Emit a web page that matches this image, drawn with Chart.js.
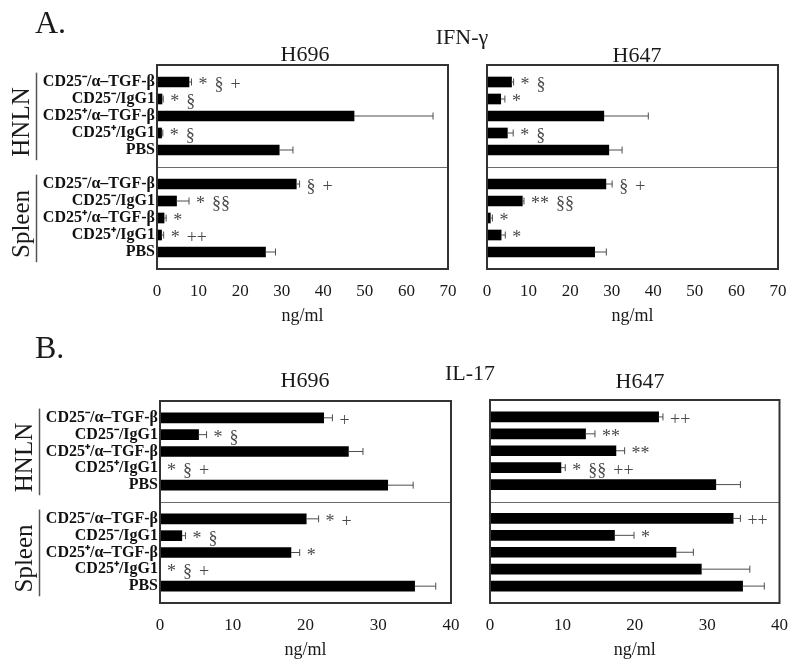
<!DOCTYPE html>
<html>
<head>
<meta charset="utf-8">
<title>IFN-γ / IL-17</title>
<script src="https://cdn.jsdelivr.net/npm/chart.js@4.4.1/dist/chart.umd.min.js"></script>
<style>
    html, body { margin: 0; padding: 0; background: #fff; }
    #page { position: relative; width: 800px; height: 666px; overflow: hidden; font-family: 'Liberation Serif', serif; color: #1a1a1a; }
    #page canvas { position: absolute; left: 0; top: 0; }
    .lbl { position: absolute; white-space: nowrap; line-height: 1; }
    .mid { transform: translateX(-50%); }
</style>
</head>
<body>
<div id="page">
    <canvas id="aLeft" width="800" height="666"></canvas>
    <canvas id="aRight" width="800" height="666"></canvas>
    <canvas id="bLeft" width="800" height="666"></canvas>
    <canvas id="bRight" width="800" height="666"></canvas>

    <div class="lbl" style="left:35px; top:6px; font-size:32px;">A.</div>
    <div class="lbl mid" style="left:462px; top:26px; font-size:22px;">IFN-γ</div>
    <div class="lbl mid" style="left:305px; top:43px; font-size:22px;">H696</div>
    <div class="lbl mid" style="left:637px; top:44px; font-size:22px;">H647</div>

    <div class="lbl" style="left:35px; top:331px; font-size:32px;">B.</div>
    <div class="lbl mid" style="left:470px; top:362px; font-size:22px;">IL-17</div>
    <div class="lbl mid" style="left:305px; top:369px; font-size:22px;">H696</div>
    <div class="lbl mid" style="left:640px; top:370px; font-size:22px;">H647</div>
</div>
<script>
(function() {
    'use strict';

    var treatments = ['CD25⁻/α–TGF-β', 'CD25⁻/IgG1', 'CD25⁺/α–TGF-β', 'CD25⁺/IgG1', 'PBS'];
    var groups = ['HNLN', 'Spleen'];
    var unit = 'ng/ml';

    // A. IFN-γ, H696
    var ifnH696Hnln = [7.7, 1.2, 47.4, 1.1, 29.4];
    var ifnH696HnlnErr = [0.6, 0.3, 19.0, 0.3, 3.3];
    var ifnH696Spleen = [33.5, 4.7, 1.7, 1.1, 26.1];
    var ifnH696SpleenErr = [0.8, 3.0, 0.5, 0.5, 2.4];
    var ifnH696HnlnNotes = ['* § +', '* §', '', '* §', ''];
    var ifnH696SpleenNotes = ['§ +', '* §§', '*', '* ++', ''];

    // A. IFN-γ, H647
    var ifnH647Hnln = [5.9, 3.3, 28.1, 4.9, 29.3];
    var ifnH647HnlnErr = [0.5, 1.0, 10.7, 1.4, 3.2];
    var ifnH647Spleen = [28.6, 8.5, 0.8, 3.4, 25.9];
    var ifnH647SpleenErr = [1.5, 0.4, 0.5, 1.0, 2.8];
    var ifnH647HnlnNotes = ['* §', '*', '', '* §', ''];
    var ifnH647SpleenNotes = ['§ +', '** §§', '*', '*', ''];

    // B. IL-17, H696
    var il17H696Hnln = [22.5, 5.3, 25.9, 0, 31.3];
    var il17H696HnlnErr = [1.2, 1.1, 2.0, 0, 3.5];
    var il17H696Spleen = [20.1, 3.0, 18.0, 0, 35.0];
    var il17H696SpleenErr = [1.7, 0.5, 1.2, 0, 2.9];
    var il17H696HnlnNotes = ['+', '* §', '', '* § +', ''];
    var il17H696SpleenNotes = ['* +', '* §', '*', '* § +', ''];

    // B. IL-17, H647
    var il17H647Hnln = [23.3, 13.2, 17.4, 9.8, 31.2];
    var il17H647HnlnErr = [0.6, 1.3, 1.2, 0.6, 3.4];
    var il17H647Spleen = [33.6, 17.2, 25.7, 29.2, 34.9];
    var il17H647SpleenErr = [1.0, 2.7, 2.4, 6.7, 3.0];
    var il17H647HnlnNotes = ['++', '**', '**', '* §§ ++', ''];
    var il17H647SpleenNotes = ['++', '*', '', '', ''];

    var ifnTicks = [0, 10, 20, 30, 40, 50, 60, 70];
    var il17Ticks = [0, 10, 20, 30, 40];

    var SERIF = "'Liberation Serif', 'Times New Roman', serif";

    // blank slot above, between and below the two groups
    function stack(top, bottom) {
        return [null].concat(top, [null], bottom, [null]);
    }

    function makePanel(id, box, xTicks, hnln, spleen, hnlnErr, spleenErr, hnlnNotes, spleenNotes, showLabels) {
        var yWidth = showLabels ? 150 : 0;
        var xHeight = 58;
        var labels = [''].concat(treatments, [''], treatments, ['']);
        var errs = stack(hnlnErr, spleenErr);
        var notes = stack(hnlnNotes, spleenNotes);

        var decor = {
            id: 'decor_' + id,
            beforeDatasetsDraw: function(chart) {
                var ctx = chart.ctx;
                var area = chart.chartArea;
                var y = Math.round(chart.scales.y.getPixelForValue(6)) + 0.5;
                ctx.save();
                ctx.strokeStyle = '#6b6b6b';
                ctx.lineWidth = 1;
                ctx.beginPath();
                ctx.moveTo(area.left, y);
                ctx.lineTo(area.right, y);
                ctx.stroke();
                ctx.restore();
            },
            afterDatasetsDraw: function(chart) {
                var ctx = chart.ctx;
                var xs = chart.scales.x;
                var values = chart.data.datasets[0].data;
                var bars = chart.getDatasetMeta(0).data;

                ctx.save();
                bars.forEach(function(bar, i) {
                    var v = values[i];
                    if (v === null) {
                        return;
                    }
                    var x0 = xs.getPixelForValue(v);
                    var x1 = x0;
                    var y = bar.y;

                    if (errs[i]) {
                        x1 = xs.getPixelForValue(v + errs[i]);
                        ctx.strokeStyle = '#4d4d4d';
                        ctx.lineWidth = 1;
                        ctx.beginPath();
                        ctx.moveTo(x0, y);
                        ctx.lineTo(x1, y);
                        ctx.moveTo(x1, y - 3.5);
                        ctx.lineTo(x1, y + 3.5);
                        ctx.stroke();
                    }

                    if (notes[i]) {
                        var x = x1 + 7;
                        ctx.font = '18px ' + SERIF;
                        ctx.fillStyle = '#4a4a4a';
                        ctx.textBaseline = 'alphabetic';
                        ctx.textAlign = 'left';
                        notes[i].split(' ').forEach(function(tok) {
                            ctx.fillText(tok, x, y + 8);
                            x += ctx.measureText(tok).width + 7;
                        });
                    }
                });
                ctx.restore();
            },
            afterDraw: function(chart) {
                var ctx = chart.ctx;
                var area = chart.chartArea;
                var ys = chart.scales.y;

                ctx.save();
                ctx.strokeStyle = '#333';
                ctx.lineWidth = 2;
                ctx.strokeRect(area.left, area.top, area.right - area.left, area.bottom - area.top);

                if (showLabels) {
                    var slot = ys.getPixelForValue(1) - ys.getPixelForValue(0);
                    groups.forEach(function(name, g) {
                        var first = ys.getPixelForValue(1 + g * 6);
                        var last = ys.getPixelForValue(5 + g * 6);
                        var lx = area.left - 120.5;

                        ctx.strokeStyle = '#555';
                        ctx.lineWidth = 1.5;
                        ctx.beginPath();
                        ctx.moveTo(lx, first - slot * 0.55);
                        ctx.lineTo(lx, last + slot * 0.6);
                        ctx.stroke();

                        ctx.save();
                        ctx.translate(area.left - 135, (first + last) / 2 + 6);
                        ctx.rotate(-Math.PI / 2);
                        ctx.font = '25px ' + SERIF;
                        ctx.fillStyle = '#1a1a1a';
                        ctx.textAlign = 'center';
                        ctx.textBaseline = 'middle';
                        ctx.fillText(name, 0, 0);
                        ctx.restore();
                    });
                }
                ctx.restore();
            }
        };

        return new Chart(document.getElementById(id), {
            type: 'bar',
            data: {
                labels: labels,
                datasets: [{
                    data: stack(hnln, spleen),
                    backgroundColor: '#000',
                    borderWidth: 0,
                    barThickness: 10
                }]
            },
            options: {
                indexAxis: 'y',
                responsive: false,
                animation: false,
                events: [],
                layout: {
                    padding: {
                        left: box.left - yWidth,
                        right: 800 - box.right,
                        top: box.top,
                        bottom: 666 - box.bottom - xHeight
                    }
                },
                plugins: {
                    legend: { display: false },
                    tooltip: { enabled: false }
                },
                scales: {
                    x: {
                        type: 'linear',
                        min: xTicks[0],
                        max: xTicks[xTicks.length - 1],
                        afterBuildTicks: function(scale) {
                            scale.ticks = xTicks.map(function(t) { return { value: t }; });
                        },
                        afterFit: function(scale) {
                            scale.height = xHeight;
                        },
                        grid: { display: false, drawTicks: false },
                        border: { display: false },
                        ticks: {
                            padding: 12,
                            color: '#1a1a1a',
                            font: { family: SERIF, size: 17 }
                        },
                        title: {
                            display: true,
                            text: unit,
                            color: '#1a1a1a',
                            padding: 0,
                            font: { family: SERIF, size: 18 }
                        }
                    },
                    y: {
                        type: 'category',
                        offset: false,
                        afterFit: function(scale) {
                            scale.width = yWidth;
                        },
                        grid: { display: false, drawTicks: false },
                        border: { display: false },
                        ticks: {
                            display: showLabels,
                            autoSkip: false,
                            padding: 2,
                            color: '#111',
                            font: { family: SERIF, size: 16, weight: 'bold' }
                        }
                    }
                }
            },
            plugins: [decor]
        });
    }

    makePanel('aLeft', { left: 157, right: 448, top: 65, bottom: 269 }, ifnTicks,
        ifnH696Hnln, ifnH696Spleen, ifnH696HnlnErr, ifnH696SpleenErr, ifnH696HnlnNotes, ifnH696SpleenNotes, true);
    makePanel('aRight', { left: 487, right: 778, top: 65, bottom: 269 }, ifnTicks,
        ifnH647Hnln, ifnH647Spleen, ifnH647HnlnErr, ifnH647SpleenErr, ifnH647HnlnNotes, ifnH647SpleenNotes, false);
    makePanel('bLeft', { left: 160, right: 451, top: 401, bottom: 603 }, il17Ticks,
        il17H696Hnln, il17H696Spleen, il17H696HnlnErr, il17H696SpleenErr, il17H696HnlnNotes, il17H696SpleenNotes, true);
    makePanel('bRight', { left: 490, right: 781, top: 400, bottom: 603 }, il17Ticks,
        il17H647Hnln, il17H647Spleen, il17H647HnlnErr, il17H647SpleenErr, il17H647HnlnNotes, il17H647SpleenNotes, false);
})();
</script>
</body>
</html>
